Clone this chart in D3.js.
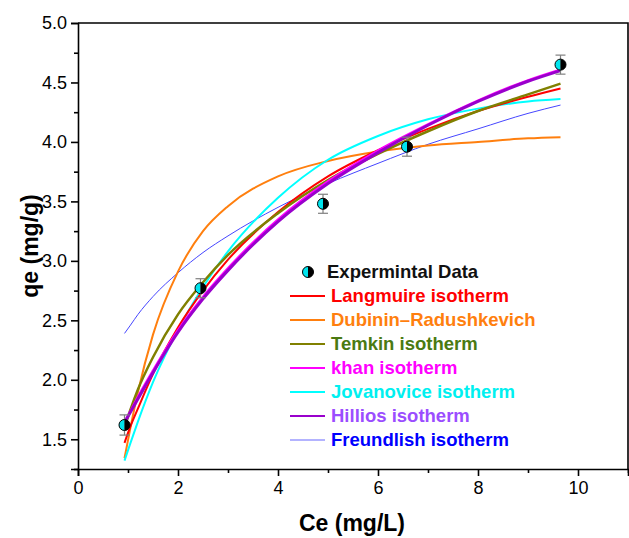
<!DOCTYPE html>
<html>
<head>
<meta charset="utf-8">
<script src="https://cdn.jsdelivr.net/npm/d3@7"></script>
<style>
  body { margin: 0; background: #fff; }
  #chart-wrap { width: 629px; height: 538px; }
  text { font-family: Arial, "Liberation Sans", sans-serif; }
</style>
</head>
<body>
<div id="chart-wrap"></div>
<script>
// Experimental points
const ceData = [0.93, 2.45, 4.90, 6.58, 9.65];
const qeData = [1.62, 2.77, 3.48, 3.96, 4.65];
const qeErr = [0.085, 0.08, 0.08, 0.08, 0.08];

// Fitted isotherm curves
const fitCe = [0.93, 1.05, 1.2, 1.5, 2, 2.5, 3, 4, 5, 6, 7, 8, 9, 9.65];
const langmuir = [1.47, 1.61, 1.76, 2.05, 2.44, 2.75, 3.01, 3.41, 3.71, 3.93, 4.11, 4.26, 4.38, 4.45];
const dubinin = [1.34, 1.60, 1.90, 2.38, 2.91, 3.25, 3.46, 3.71, 3.84, 3.92, 3.97, 4.00, 4.03, 4.04];
const temkin = [1.60, 1.75, 1.92, 2.19, 2.55, 2.82, 3.05, 3.40, 3.68, 3.90, 4.09, 4.26, 4.40, 4.49];
const khan = [1.65, 1.74, 1.86, 2.08, 2.42, 2.70, 2.94, 3.35, 3.67, 3.93, 4.15, 4.35, 4.52, 4.61];
const jovanovic = [1.32, 1.47, 1.65, 1.98, 2.42, 2.78, 3.08, 3.53, 3.85, 4.05, 4.19, 4.28, 4.34, 4.36];
const hillios = [1.64, 1.73, 1.84, 2.06, 2.40, 2.68, 2.92, 3.33, 3.65, 3.91, 4.14, 4.34, 4.51, 4.60];
const freundlich = [2.39, 2.46, 2.55, 2.70, 2.90, 3.07, 3.21, 3.45, 3.65, 3.82, 3.98, 4.11, 4.24, 4.31];

const xMajor = [0, 2, 4, 6, 8, 10];
const xMinor = [1, 3, 5, 7, 9, 11];
const yMajor = [1.5, 2.0, 2.5, 3.0, 3.5, 4.0, 4.5, 5.0];
const yMinor = [1.25, 1.75, 2.25, 2.75, 3.25, 3.75, 4.25, 4.75];

// drawing order: first drawn sits underneath
const series = [
  { name: 'Freundlish isotherm', values: freundlich, line: '#4646ff', text: '#0000ff', width: 1, legendLine: '#9a9aff' },
  { name: 'Dubinin\u2013Radushkevich', values: dubinin, line: '#ff7f0e', text: '#ff7f0e', width: 2 },
  { name: 'Jovanovice isotherm', values: jovanovic, line: '#00ffff', text: '#00f0f0', width: 2 },
  { name: 'Langmuire isotherm', values: langmuir, line: '#ff0000', text: '#ff0000', width: 2 },
  { name: 'Temkin isotherm', values: temkin, line: '#808000', text: '#4a7a12', width: 2.5 },
  { name: 'khan isotherm', values: khan, line: '#ff00ff', text: '#ff00ff', width: 2 },
  { name: 'Hillios isotherm', values: hillios, line: '#9900cc', text: '#9b4dff', width: 3 }
];
const legendOrder = ['Langmuire isotherm', 'Dubinin\u2013Radushkevich', 'Temkin isotherm', 'khan isotherm',
  'Jovanovice isotherm', 'Hillios isotherm', 'Freundlish isotherm'];

const width = 629;
const height = 538;
const margin = { top: 23, right: 1, bottom: 69, left: 78 };

const svg = d3.select('#chart-wrap').append('svg')
  .attr('width', width)
  .attr('height', height);

const x = d3.scaleLinear().domain([0, 11]).range([margin.left, width - margin.right]);
const y = d3.scaleLinear().domain([1.25, 5.0]).range([height - margin.bottom, margin.top]);

// Curves
const line = d3.line()
  .x((d, i) => x(fitCe[i]))
  .y(d => y(d))
  .curve(d3.curveMonotoneX);

svg.append('g')
  .selectAll('path')
  .data(series)
  .join('path')
  .attr('d', d => line(d.values))
  .attr('fill', 'none')
  .attr('stroke', d => d.line)
  .attr('stroke-width', d => d.width);

// Error bars
const pts = ceData.map((c, i) => ({ c: c, q: qeData[i], e: qeErr[i] }));
const err = svg.append('g').attr('stroke', '#7f7f7f').attr('stroke-width', 1.2);
pts.forEach(p => {
  const cx = x(p.c);
  err.append('line').attr('x1', cx).attr('x2', cx).attr('y1', y(p.q + p.e)).attr('y2', y(p.q - p.e));
  err.append('line').attr('x1', cx - 5).attr('x2', cx + 5).attr('y1', y(p.q + p.e)).attr('y2', y(p.q + p.e));
  err.append('line').attr('x1', cx - 5).attr('x2', cx + 5).attr('y1', y(p.q - p.e)).attr('y2', y(p.q - p.e));
});

// Half filled markers
const halfArc = d3.arc().innerRadius(0).outerRadius(5.5);
const marker = (g) => {
  g.append('path').attr('d', halfArc({ startAngle: Math.PI, endAngle: 2 * Math.PI })).attr('fill', '#00e5ee');
  g.append('path').attr('d', halfArc({ startAngle: 0, endAngle: Math.PI })).attr('fill', '#000');
  g.append('circle').attr('r', 5.5).attr('fill', 'none').attr('stroke', '#000').attr('stroke-width', 1);
};

svg.append('g')
  .selectAll('g')
  .data(pts)
  .join('g')
  .attr('transform', d => `translate(${x(d.c)},${y(d.q)})`)
  .each(function () { marker(d3.select(this)); });

// Axes
svg.append('g')
  .attr('transform', `translate(0,${y(1.25)})`)
  .call(d3.axisBottom(x).tickValues(xMajor).tickSize(7).tickPadding(5).tickFormat(d3.format('d')));
svg.append('g')
  .attr('transform', `translate(0,${y(1.25)})`)
  .call(d3.axisBottom(x).tickValues(xMinor).tickSize(4).tickFormat(''))
  .call(g => g.select('.domain').remove());

svg.append('g')
  .attr('transform', `translate(${x(0)},0)`)
  .call(d3.axisLeft(y).tickValues(yMajor).tickSize(7).tickPadding(4).tickFormat(d3.format('.1f')));
svg.append('g')
  .attr('transform', `translate(${x(0)},0)`)
  .call(d3.axisLeft(y).tickValues(yMinor).tickSize(4).tickFormat(''))
  .call(g => g.select('.domain').remove());

svg.selectAll('.domain').attr('stroke', '#000').attr('stroke-width', 1.6);
svg.selectAll('.tick line').attr('stroke', '#000').attr('stroke-width', 1.6);
svg.selectAll('.tick text').attr('font-size', 18).attr('fill', '#000')
  .attr('font-family', 'Arial, "Liberation Sans", sans-serif');

// Frame top and right
svg.append('path')
  .attr('d', `M${x(0)},${y(5)}H${x(11)}V${y(1.25)}`)
  .attr('fill', 'none')
  .attr('stroke', '#000')
  .attr('stroke-width', 1.6);

// Axis titles
svg.append('text')
  .attr('x', 352)
  .attr('y', 531)
  .attr('text-anchor', 'middle')
  .attr('font-size', 23)
  .attr('font-weight', 'bold')
  .text('Ce (mg/L)');

svg.append('text')
  .attr('transform', 'translate(38,246) rotate(-90)')
  .attr('text-anchor', 'middle')
  .attr('font-size', 23)
  .attr('font-weight', 'bold')
  .text('qe (mg/g)');

// Legend
const legend = svg.append('g').attr('transform', 'translate(290,272)');
const dataItem = legend.append('g').attr('transform', 'translate(18,0)');
marker(dataItem);
legend.append('text')
  .attr('x', 37)
  .attr('y', 6)
  .attr('font-size', 18.5)
  .attr('font-weight', 'bold')
  .attr('fill', '#111')
  .text('Expermintal Data');

legendOrder.forEach((name, i) => {
  const s = series.find(d => d.name === name);
  const row = legend.append('g').attr('transform', `translate(0,${24 * (i + 1)})`);
  row.append('line')
    .attr('x1', 0).attr('x2', 35)
    .attr('stroke', s.legendLine || s.line)
    .attr('stroke-width', s.width === 1 ? 1.5 : 2);
  row.append('text')
    .attr('x', 41)
    .attr('y', 6)
    .attr('font-size', 18.5)
    .attr('font-weight', 'bold')
    .attr('fill', s.text)
    .text(name);
});
</script>
</body>
</html>
